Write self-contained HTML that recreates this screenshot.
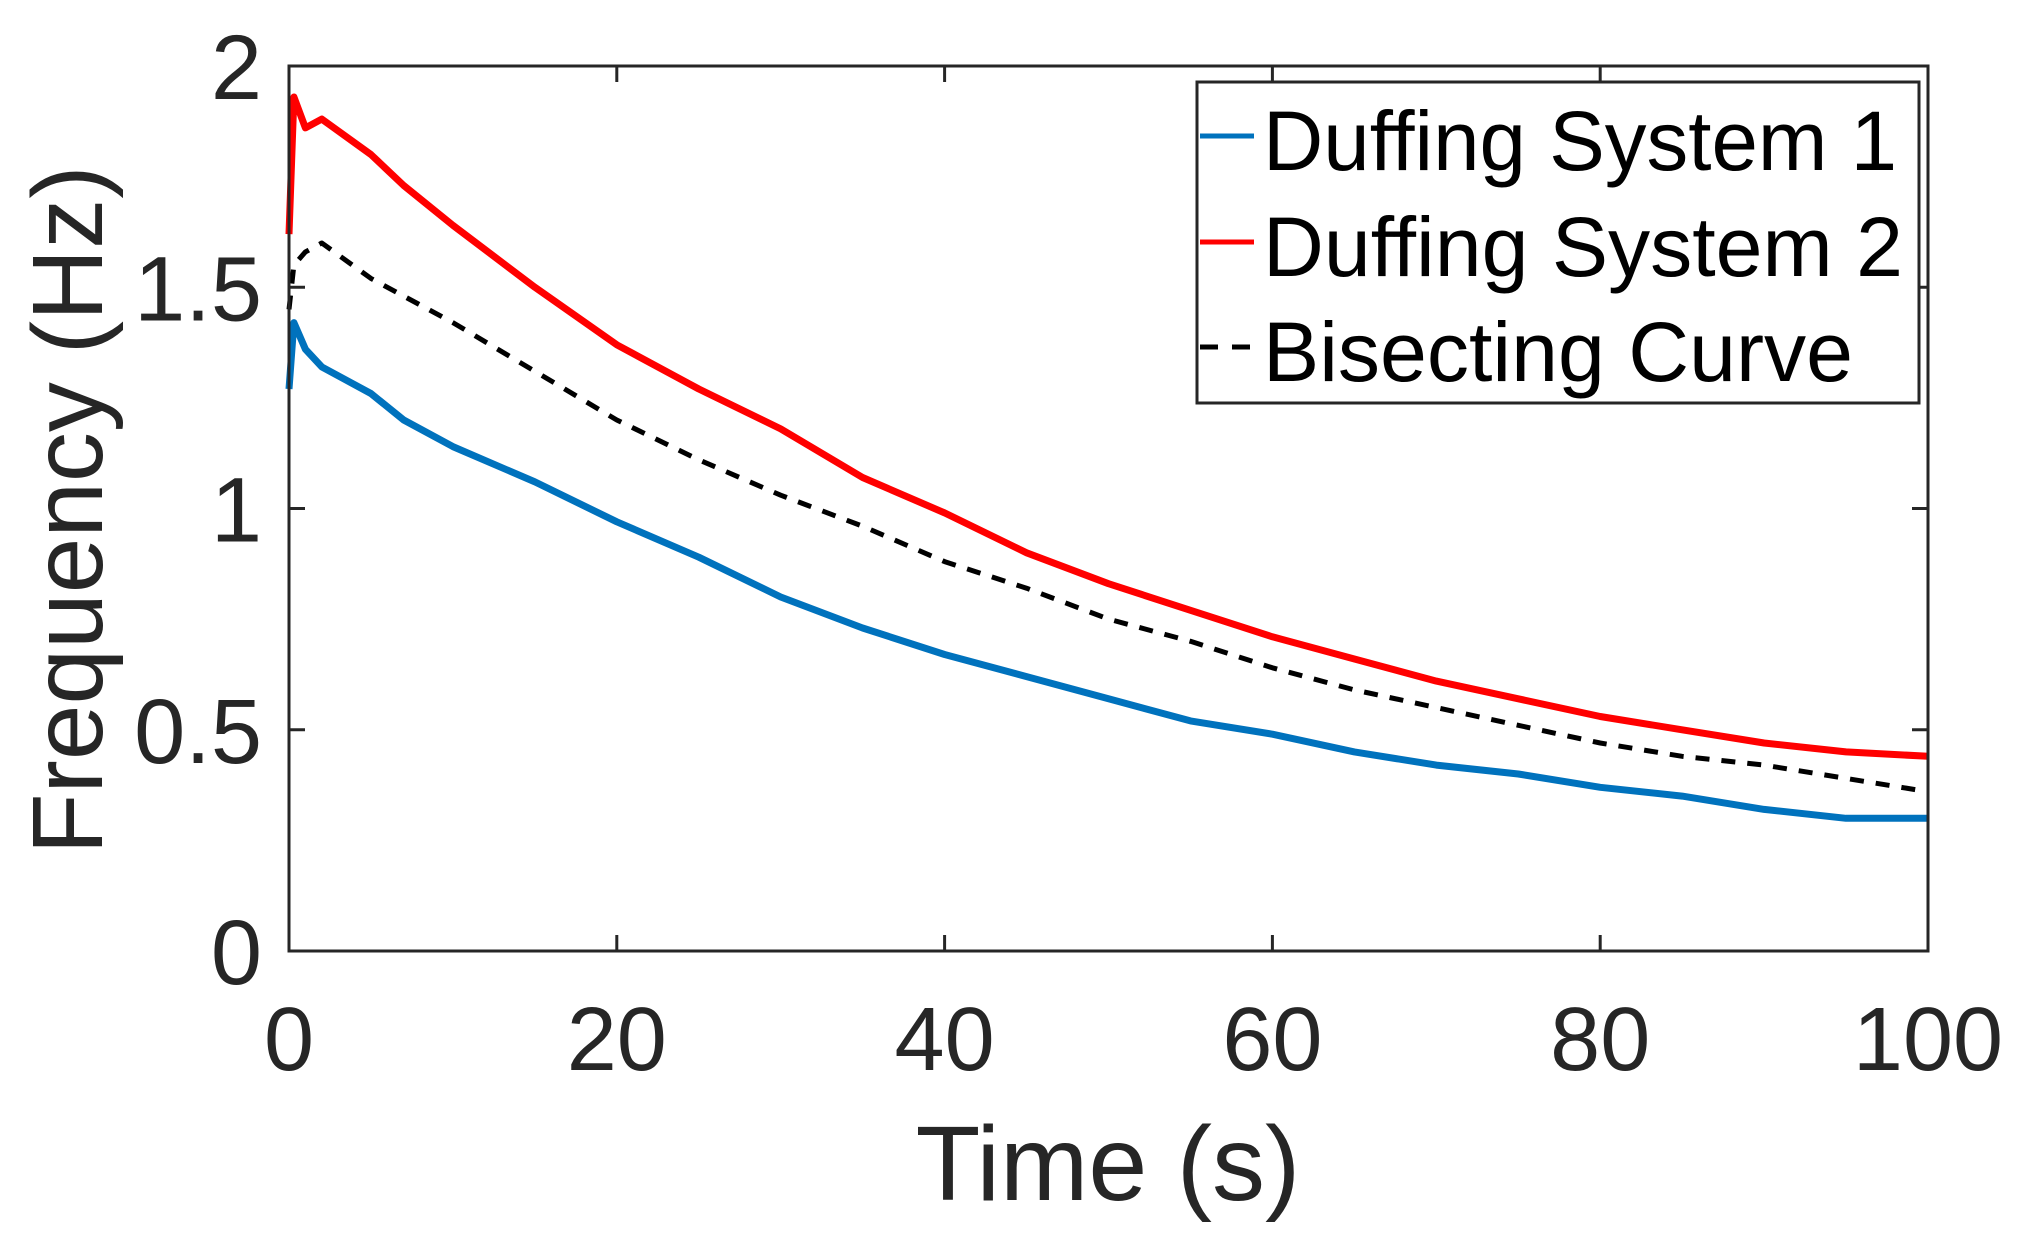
<!DOCTYPE html>
<html><head><meta charset="utf-8"><style>body{margin:0;background:#fff}svg{display:block}</style></head>
<body>
<svg id="chart" width="2033" height="1233" xmlns="http://www.w3.org/2000/svg" font-family="Liberation Sans, sans-serif">
<rect width="2033" height="1233" fill="#fff"/>
<g id="plot"></g>
<g id="axes"></g>
<g>
<rect x="1197" y="82" width="722" height="321" fill="#fff" stroke="#262626" stroke-width="3"/>
<line x1="1200" y1="136" x2="1254" y2="136" stroke="#0072BD" stroke-width="5"/>
<text x="1263" y="170" font-size="84" textLength="634" lengthAdjust="spacingAndGlyphs">Duffing System 1</text>
<line x1="1200" y1="242" x2="1254" y2="242" stroke="#FF0000" stroke-width="5"/>
<text x="1263" y="276" font-size="84" textLength="640" lengthAdjust="spacingAndGlyphs">Duffing System 2</text>
<line x1="1200" y1="347" x2="1254" y2="347" stroke="#000" stroke-width="5" stroke-dasharray="18,14"/>
<text x="1263" y="381" font-size="84" textLength="590" lengthAdjust="spacingAndGlyphs">Bisecting Curve</text>
</g>
</svg>
<script>
const times = [0,0.3,1,2,5,7,10,15,20,25,30,35,40,45,50,55,60,65,70,75,80,85,90,95,100];
const system1 = [1.27,1.42,1.36,1.32,1.26,1.2,1.14,1.06,0.97,0.89,0.8,0.73,0.67,0.62,0.57,0.52,0.49,0.45,0.42,0.4,0.37,0.35,0.32,0.3,0.3];
const system2 = [1.62,1.93,1.86,1.88,1.8,1.73,1.64,1.5,1.37,1.27,1.18,1.07,0.99,0.9,0.83,0.77,0.71,0.66,0.61,0.57,0.53,0.5,0.47,0.45,0.44];
const bisecting = [1.45,1.55,1.58,1.6,1.52,1.48,1.42,1.31,1.2,1.11,1.03,0.96,0.88,0.82,0.75,0.7,0.64,0.59,0.55,0.51,0.47,0.44,0.42,0.39,0.36];
const xTicks = [0,20,40,60,80,100];
const yTicks = [0,0.5,1,1.5,2];
const yTickLabels = ["0","0.5","1","1.5","2"];

const L=289,R=1928,T=66,B=951;
const xs=v=>L+(v-0)/(100-0)*(R-L);
const ys=v=>B-(v-0)/(2-0)*(B-T);
const NS="http://www.w3.org/2000/svg";
function mk(tag,attrs,parent){const e=document.createElementNS(NS,tag);for(const k in attrs)e.setAttribute(k,attrs[k]);parent.appendChild(e);return e;}
const plot=document.getElementById('plot'), axes=document.getElementById('axes');
function series(vals,color,name,dash){
  const d=times.map((t,i)=>(i?'L':'M')+xs(t).toFixed(1)+','+ys(vals[i]).toFixed(1)).join(' ');
  const p=mk('path',{d:d,fill:'none',stroke:color,'stroke-width':dash?5:7,'stroke-linejoin':'round'},plot);
  if(dash)p.setAttribute('stroke-dasharray','14,12');
  
  
}
series(system2,'#FF0000','series-system-2');
series(system1,'#0072BD','series-system-1');
series(bisecting,'#000','series-bisecting',true);

const box=mk('rect',{x:L,y:T,width:R-L,height:B-T,fill:'none',stroke:'#262626','stroke-width':3},axes);


xTicks.forEach(v=>{
  const x=xs(v);
  mk('line',{x1:x,y1:B,x2:x,y2:B-16,stroke:'#262626','stroke-width':3},axes);
  mk('line',{x1:x,y1:T,x2:x,y2:T+16,stroke:'#262626','stroke-width':3},axes);
  const t=mk('text',{x:x,y:1070,'font-size':90,'text-anchor':'middle',fill:'#262626'},axes);
  t.textContent=String(v);
  
  
});
yTicks.forEach((v,i)=>{
  const y=ys(v);
  mk('line',{x1:L,y1:y,x2:L+16,y2:y,stroke:'#262626','stroke-width':3},axes);
  mk('line',{x1:R,y1:y,x2:R-16,y2:y,stroke:'#262626','stroke-width':3},axes);
  const t=mk('text',{x:262,y:y+33,'font-size':92,'text-anchor':'end',fill:'#262626'},axes);
  t.textContent=yTickLabels[i];
  
  
});
const xt=mk('text',{x:1108,y:1200,'font-size':106,'text-anchor':'middle',fill:'#262626'},axes);
xt.textContent='Time (s)';


const yt=mk('text',{x:0,y:0,'font-size':100,'text-anchor':'middle',fill:'#262626',transform:'translate(102,510) rotate(-90)'},axes);
yt.textContent='Frequency (Hz)';


</script>
</body></html>
